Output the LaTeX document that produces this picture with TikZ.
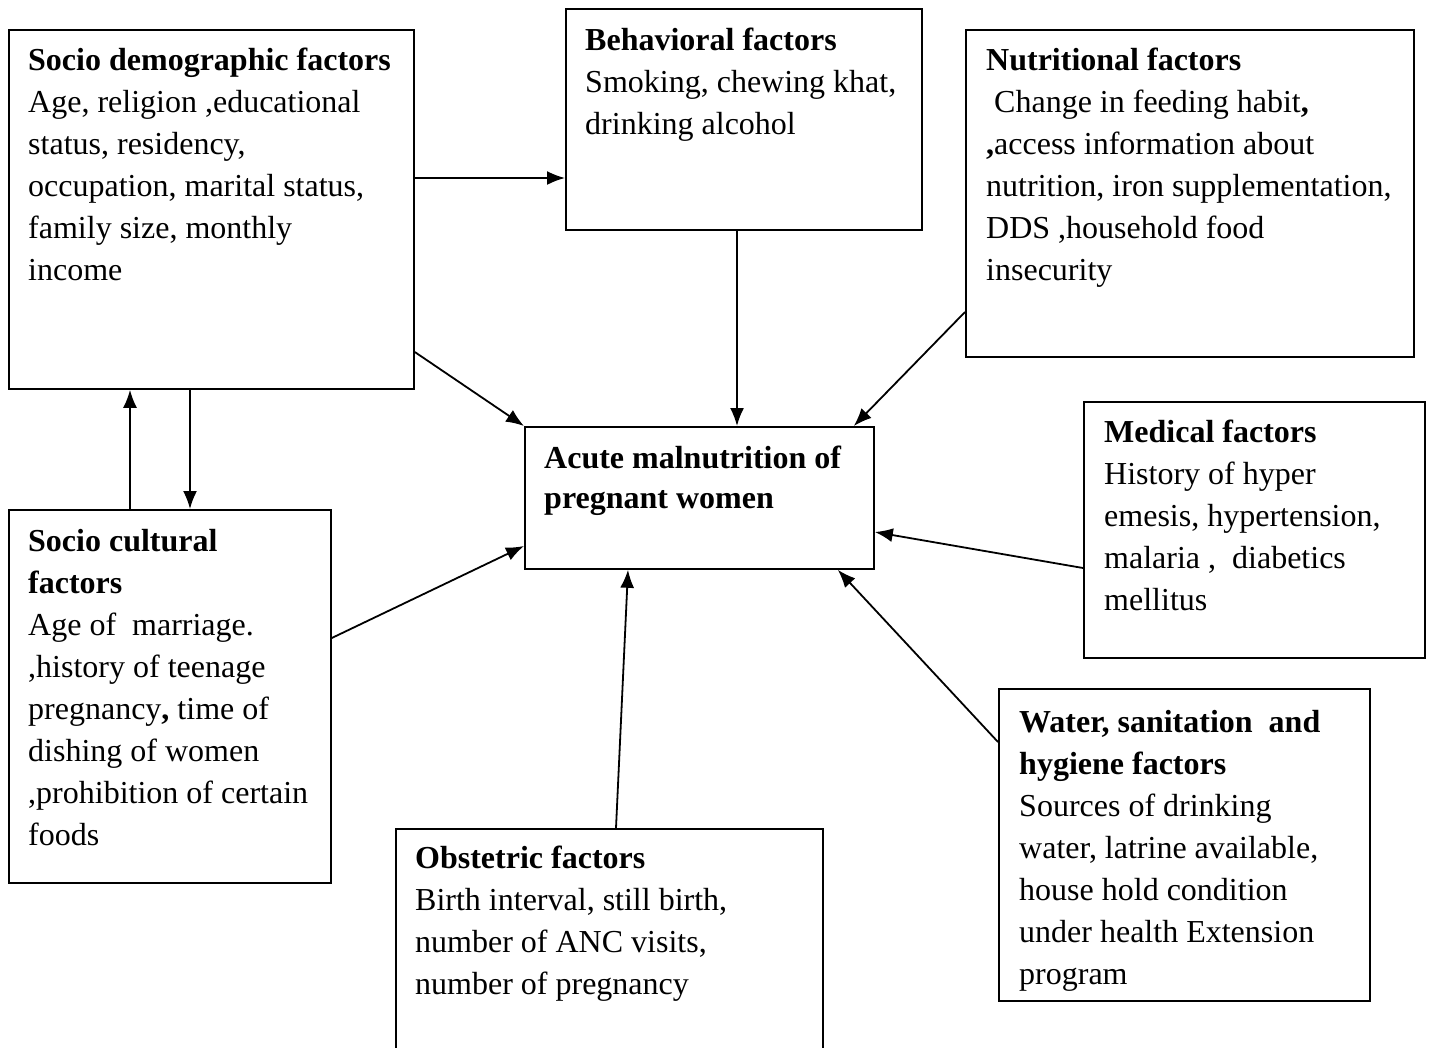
\documentclass[tikz,border=0pt]{standalone}
\usepackage{fontspec}
\setmainfont{Liberation Serif}
\usetikzlibrary{arrows.meta,calc}
\newcommand\boxtext[2]{\parbox[t]{#1pt}{\fontsize{32}{42}\selectfont\raggedright #2}}
\tikzset{
  fbox/.style={draw=black, line width=1.8pt, inner sep=0pt, anchor=north west},
  ftext/.style={inner sep=0pt, anchor=base west, text=black},
  arr/.style={line width=1.8pt, -{Latex[length=18pt,width=14pt]}},
}
\begin{document}
\begin{tikzpicture}[x=1pt,y=-1pt]
\useasboundingbox (0,0) rectangle (1431,1047);
\fill[white] (0,0) rectangle (1431,1047);
% boxes
\node[fbox, minimum width=405, minimum height=359] (sd) at (8,29) {};
\node[fbox, minimum width=356, minimum height=221] (beh) at (565,8) {};
\node[fbox, minimum width=448, minimum height=327] (nut) at (965,29) {};
\node[fbox, minimum width=349, minimum height=142] (cen) at (524,426) {};
\node[fbox, minimum width=341, minimum height=256] (med) at (1083,401) {};
\node[fbox, minimum width=371, minimum height=312] (wash) at (998,688) {};
\node[fbox, minimum width=322, minimum height=373] (sc) at (8,509) {};
\node[fbox, minimum width=427, minimum height=240] (obs) at (395,828) {};
% texts
\node[ftext] (sdt) at (28,70) {\boxtext{380}{\textbf{Socio demographic factors}\\
Age, religion ,educational\\ status, residency,\\ occupation, marital status,\\ family size, monthly\\ income}};
\node[ftext] (beht) at (585,50) {\boxtext{330}{\textbf{Behavioral factors}\\
Smoking, chewing khat,\\ drinking alcohol}};
\node[ftext] (nutt) at (986,70) {\boxtext{420}{\textbf{Nutritional factors}\\
\hspace*{0.25em}Change in feeding habit\textbf{,}\\ \textbf{,}access information about\\ nutrition, iron supplementation,\\ DDS ,household food\\ insecurity}};
\node[ftext] (cent) at (544,468) {\parbox[t]{320pt}{\fontsize{32}{40}\selectfont\raggedright\textbf{Acute malnutrition of}\\ \textbf{pregnant women}}};
\node[ftext] (medt) at (1104,442) {\boxtext{315}{\textbf{Medical factors}\\
History of hyper\\ emesis, hypertension,\\ malaria ,\ \ diabetics\\ mellitus}};
\node[ftext] (washt) at (1019,732) {\boxtext{345}{\textbf{Water, sanitation\ \ and}\\ \textbf{hygiene factors}\\
Sources of drinking\\ water, latrine available,\\ house hold condition\\ under health Extension\\ program}};
\node[ftext] (sct) at (28,551) {\boxtext{300}{\textbf{Socio cultural}\\ \textbf{factors}\\
Age of\ \ marriage.\\ ,history of teenage\\ pregnancy\textbf{,} time of\\ dishing of women\\ ,prohibition of certain\\ foods}};
\node[ftext] (obst) at (415,868) {\boxtext{400}{\textbf{Obstetric factors}\\
Birth interval, still birth,\\ number of ANC visits,\\ number of pregnancy}};
% arrows
\draw[arr] ($(sd.north east)+(0,149)$) -- ($(beh.north west)+(0,170)$);
\draw[arr] ($(beh.south west)+(172,0)$) -- ($(cen.north west)+(213,0)$);
\draw[arr] ($(nut.north west)+(0,283)$) -- ($(cen.north east)+(-21,0)$);
\draw[arr] ($(sd.north east)+(0,323)$) -- (cen.north west);
\draw[arr] ($(sc.north west)+(122,0)$) -- ($(sd.south west)+(122,0)$);
\draw[arr] ($(sd.south west)+(182,0)$) -- ($(sc.north west)+(182,0)$);
\draw[arr] ($(sc.north east)+(0,129)$) -- ($(cen.north west)+(0,120)$);
\draw[arr] ($(obs.north west)+(221,0)$) -- ($(cen.south west)+(104,0)$);
\draw[arr] ($(med.north west)+(0,167)$) -- ($(cen.north east)+(0,106)$);
\draw[arr] ($(wash.north west)+(0,54)$) -- ($(cen.south east)+(-37,0)$);
\end{tikzpicture}
\end{document}
